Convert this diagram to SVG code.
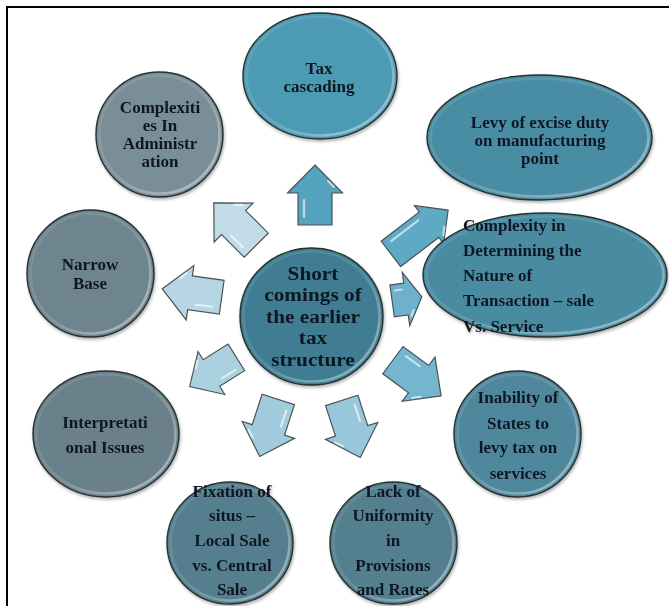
<svg xmlns="http://www.w3.org/2000/svg" width="669" height="606" viewBox="0 0 669 606">
<style>
.bg{fill:#ffffff}
.frame{stroke:#000;stroke-width:2;fill:none}
.main{stroke:#26302f;stroke-width:1.4}
.rim{fill:none;stroke:url(#rim);stroke-width:2.6}
.t{font-family:"Liberation Serif","Times New Roman",serif;font-weight:bold;font-size:17px;fill:#0f1722;text-anchor:middle}
.tl{text-anchor:start}
.big{font-size:19px}
.arr{stroke:#4b5356;stroke-width:1.2;stroke-linejoin:miter}
.gl{fill:none;stroke:#ffffff;stroke-opacity:0.6;stroke-width:2.2;stroke-linecap:round}
</style>
<defs>
<linearGradient id="rim" x1="0" y1="0" x2="1" y2="1">
<stop offset="0" stop-color="#fff" stop-opacity="0.08"/>
<stop offset="0.5" stop-color="#fff" stop-opacity="0.12"/>
<stop offset="1" stop-color="#fff" stop-opacity="0.5"/>
</linearGradient>
<filter id="sh" x="-10%" y="-10%" width="120%" height="125%">
<feDropShadow dx="1" dy="2" stdDeviation="1.5" flood-color="#000" flood-opacity="0.3"/>
</filter>
<path id="A" d="M0,-30 L27.5,-2 L17,-2 L17,30 L-17,30 L-17,-2 L-27.5,-2 Z"/>
<path id="G" d="M-11,5 L-11,22 M13,-14 L19,-8"/>
</defs>
<rect class="bg" x="0" y="0" width="669" height="606"/>
<path class="frame" d="M7,606 L7,7 L669,7"/>

<g id="connectors">
<g transform="translate(315,195)"><use href="#A" class="arr" fill="#55a4bf"/><use href="#G" class="gl"/></g>
<g transform="translate(235,224) rotate(-45)"><use href="#A" class="arr" fill="#c2dce7"/><use href="#G" class="gl"/></g>
<g transform="translate(192,293) rotate(-82)"><use href="#A" class="arr" fill="#b6d6e3"/><use href="#G" class="gl"/></g>
<g transform="translate(213,372) rotate(-122) scale(0.92)"><use href="#A" class="arr" fill="#abd1e0"/><use href="#G" class="gl"/></g>
<g transform="translate(269,428) rotate(-162)"><use href="#A" class="arr" fill="#a2ccde"/><use href="#G" class="gl"/></g>
<g transform="translate(351,429) rotate(162)"><use href="#A" class="arr" fill="#98c7db"/><use href="#G" class="gl"/></g>
<g transform="translate(417,378) rotate(126.5)"><use href="#A" class="arr" fill="#74b6cd"/><use href="#G" class="gl"/></g>
<g transform="translate(406,299) rotate(82)"><path class="arr" fill="#6db2ca" d="M0,-16 L27,0 L16,0 L16,14 L-16,14 L-16,0 L-27,0 Z"/><path class="gl" d="M-10,3 L-10,10 M12,-6 L18,-3"/></g>
<g transform="translate(419.5,232) rotate(52.6)"><path class="arr" fill="#5eaac4" d="M0,-36 L24,-12 L16,-12 L16,36 L-16,36 L-16,-12 L-24,-12 Z"/><path class="gl" d="M-10,-6 L-10,28 M11,-23 L17,-17"/></g>
</g>

<g id="node-tax" filter="url(#sh)">
<ellipse class="main" cx="320" cy="76" rx="77" ry="63" fill="#4e9ab4"/>
<ellipse class="rim" cx="320" cy="76" rx="73.5" ry="59.5"/>
<text class="t" x="319" y="73.5">Tax</text>
<text class="t" x="319" y="91.5">cascading</text>
</g>

<g id="node-complexities" filter="url(#sh)">
<ellipse class="main" cx="159.5" cy="134.5" rx="63.5" ry="62.5" fill="#7a8e98"/>
<ellipse class="rim" cx="159.5" cy="134.5" rx="60" ry="59"/>
<text class="t" x="160" y="112.5">Complexiti</text>
<text class="t" x="160" y="130.5">es In</text>
<text class="t" x="160" y="148.5">Administr</text>
<text class="t" x="160" y="166.5">ation</text>
</g>

<g id="node-levy" filter="url(#sh)">
<ellipse class="main" cx="539.5" cy="137.5" rx="112.5" ry="62.5" fill="#4a8da4"/>
<ellipse class="rim" cx="539.5" cy="137.5" rx="109" ry="59"/>
<text class="t" x="540" y="127.5">Levy of excise duty</text>
<text class="t" x="540" y="145.5">on manufacturing</text>
<text class="t" x="540" y="163.5">point</text>
</g>

<g id="node-narrow" filter="url(#sh)">
<ellipse class="main" cx="90.5" cy="273.5" rx="63.5" ry="63.5" fill="#6e858f"/>
<ellipse class="rim" cx="90.5" cy="273.5" rx="60" ry="60"/>
<text class="t" x="90" y="269.5">Narrow</text>
<text class="t" x="90" y="288.5">Base</text>
</g>

<g id="node-determining" filter="url(#sh)">
<ellipse class="main" cx="545" cy="275" rx="122" ry="62" fill="#4a8ba1"/>
<ellipse class="rim" cx="545" cy="275" rx="118.5" ry="58.5"/>
<text class="t tl" x="463" y="230.5">Complexity in</text>
<text class="t tl" x="463" y="255.5">Determining the</text>
<text class="t tl" x="463" y="280.5">Nature of</text>
<text class="t tl" x="463" y="305.5">Transaction – sale</text>
<text class="t tl" x="463" y="331.5">Vs. Service</text>
</g>

<g id="node-center" filter="url(#sh)">
<ellipse class="main" cx="311.5" cy="316.5" rx="71.5" ry="68.5" fill="#3f7d92"/>
<ellipse class="rim" cx="311.5" cy="316.5" rx="68" ry="65"/>
<g transform="translate(313,0) scale(1.12,1) translate(-313,0)">
<text class="t big" x="313" y="280">Short</text>
<text class="t big" x="313" y="301.5">comings of</text>
<text class="t big" x="313" y="323">the earlier</text>
<text class="t big" x="313" y="344.5">tax</text>
<text class="t big" x="313" y="366">structure</text>
</g>
</g>

<g id="node-interpretational" filter="url(#sh)">
<ellipse class="main" cx="106" cy="434" rx="73" ry="63" fill="#6a808b"/>
<ellipse class="rim" cx="106" cy="434" rx="69.5" ry="59.5"/>
<text class="t" x="105" y="427.5">Interpretati</text>
<text class="t" x="105" y="452.5">onal Issues</text>
</g>

<g id="node-inability" filter="url(#sh)">
<ellipse class="main" cx="517.5" cy="434" rx="63.5" ry="63" fill="#4f889c"/>
<ellipse class="rim" cx="517.5" cy="434" rx="60" ry="59.5"/>
<text class="t" x="518" y="402.5">Inability of</text>
<text class="t" x="518" y="428.5">States to</text>
<text class="t" x="518" y="452.5">levy tax on</text>
<text class="t" x="518" y="478.5">services</text>
</g>

<g id="node-fixation" filter="url(#sh)">
<ellipse class="main" cx="230" cy="543" rx="63" ry="61" fill="#557f8e"/>
<ellipse class="rim" cx="230" cy="543" rx="59.5" ry="57.5"/>
<text class="t" x="232" y="496.5">Fixation of</text>
<text class="t" x="232" y="520.5">situs –</text>
<text class="t" x="232" y="545.5">Local Sale</text>
<text class="t" x="232" y="570.5">vs. Central</text>
<text class="t" x="232" y="594.5">Sale</text>
</g>

<g id="node-lack" filter="url(#sh)">
<ellipse class="main" cx="393.5" cy="543" rx="63.5" ry="61" fill="#527f8f"/>
<ellipse class="rim" cx="393.5" cy="543" rx="60" ry="57.5"/>
<text class="t" x="393" y="496.5">Lack of</text>
<text class="t" x="393" y="520.5">Uniformity</text>
<text class="t" x="393" y="545.5">in</text>
<text class="t" x="393" y="570.5">Provisions</text>
<text class="t" x="393" y="594.5">and Rates</text>
</g>
</svg>
